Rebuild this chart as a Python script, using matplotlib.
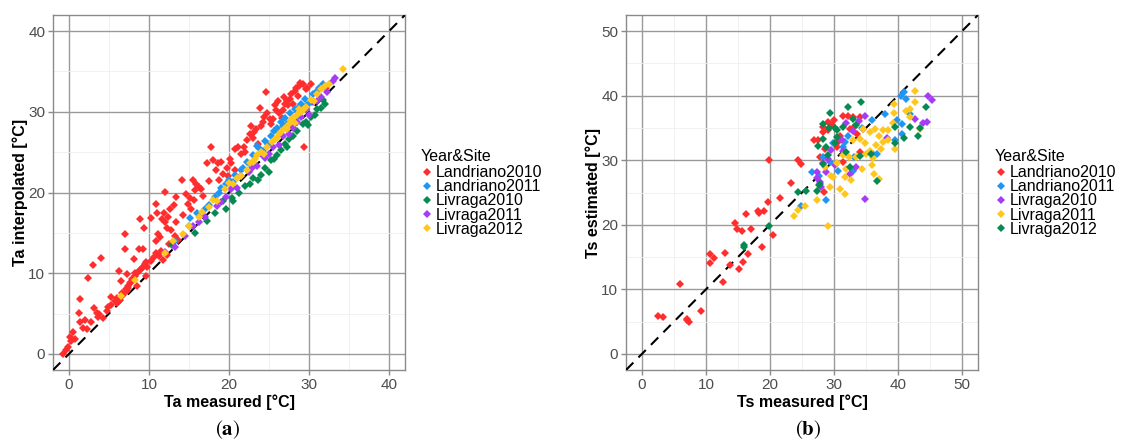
import matplotlib
matplotlib.use("Agg")
import matplotlib.pyplot as plt
import numpy as np

plt.rcParams['font.family'] = ['Liberation Sans', 'DejaVu Sans']

# ---------------- Panel (a): Ta ----------------
a_L10_x = [-0.7,-0.4,-0.1,0.2,0.5,0.1,1.4,1.2,1.4,1.8,2.0,2.4,2.95,3.1,2.8,3.45,3.95,3.8,4.3,4.7,5.3,5.7,
           6.2,6.0,6.6,7.0,7.0,7.2,7.1,7.6,7.4,8.2,8.5,8.9,8.8,9.3,9.1,9.4,9.6,9.8,9.6,10.3,10.9,11.0,10.9,
           11.1,10.9,11.4,11.6,12.0,12.0,12.2,11.9,12.4,12.6,12.8,13.1,13.4,13.4,13.2,11.3,11.8,12.2,13.6,
           14.1,14.3,14.6,14.9,15.1,15.3,15.5,15.7,15.9,16.3,16.5,15.6,17.2,17.8,18.0,18.4,18.6,19.0,19.2,
           19.7,20.1,20.3,20.7,21.1,21.9,20.7,22.6,22.8,23.1,23.4,23.9,24.0,24.4,24.7,24.6,25.1,25.5,25.9,
           26.1,26.2,26.7,27.2,27.6,27.8,28.2,28.4,28.8,29.2,28.6,29.4,29.6,32.1,
           6.0,6.4,6.8,7.2,7.4,7.8,8.2,8.6,8.9,9.3,9.5,10.2,10.6,11.5,12.5,
           0.8,2.2,3.6,4.9,5.2,6.5,7.9,8.1,16.8,17.5,21.5,22.2,23.6,25.3,26.6,27.0,28.0,
           24.2,25.8,26.9,27.4,28.9,29.8,30.2,23.0,22.0,19.9,18.8]
a_L10_y = [0.0,0.5,0.9,1.6,2.7,2.1,6.8,5.1,4.0,3.2,4.2,9.4,11.0,5.7,4.0,5.1,11.9,4.9,4.4,5.3,6.1,6.5,
           10.3,6.9,7.5,14.9,13.0,9.9,8.0,8.8,8.4,10.0,8.4,16.7,13.0,13.0,10.6,15.6,11.4,10.8,9.6,16.8,18.6,
           17.4,14.0,14.9,12.5,14.5,16.7,20.1,16.4,15.6,17.4,17.0,18.0,15.4,18.4,19.4,16.3,14.6,12.1,11.6,12.3,
           14.1,21.5,17.2,19.8,18.6,19.3,18.0,21.5,20.3,21.1,20.7,20.4,19.1,23.6,25.6,24.0,22.8,23.7,23.8,22.3,
           23.0,24.2,23.6,25.4,25.6,25.7,22.8,27.3,28.2,27.5,27.9,30.5,28.3,29.4,29.8,32.4,29.1,29.1,30.2,
           31.4,29.8,30.2,31.4,31.6,32.2,32.6,33.0,33.2,33.5,32.0,25.6,32.8,33.0,
           6.3,6.7,7.3,7.8,8.2,8.9,9.6,10.2,10.4,10.8,11.2,11.5,12.0,12.8,13.6,
           1.9,3.1,4.6,5.8,7.0,9.0,9.3,11.8,19.6,21.4,24.8,26.5,26.0,28.5,29.2,31.0,31.0,
           28.8,30.8,31.8,30.9,33.6,33.0,33.4,26.8,25.0,22.0,21.5]

a_L11_x = [13.3,15.0,16.0,17.5,18.2,19.0,20.0,20.8,21.5,22.2,23.0,23.8,24.5,25.2,26.0,26.5,27.0,27.6,
           28.2,29.0,29.5,30.5,31.2,31.8,23.5,24.2,20.5,22.8,25.6,27.3,15.1,19.6,26.8,28.8,30.2,17.0,
           21.8,24.9,26.2,28.5,29.8,31.0,18.8,16.4]
a_L11_y = [14.0,15.8,17.5,18.5,19.4,20.5,21.5,22.2,22.8,23.8,24.6,25.5,26.4,27.0,28.0,28.8,29.2,29.8,
           30.3,31.0,31.6,32.2,33.0,33.5,25.8,25.2,21.3,23.4,27.6,28.5,16.8,21.0,28.3,30.6,31.2,18.0,
           23.0,26.0,27.4,29.4,30.9,32.6,19.9,17.2]

a_V10_x = [12.9,15.8,19.3,20.4,20.5,22.0,23.0,23.6,24.5,25.0,25.6,26.5,27.2,27.5,28.5,29.2,29.6,30.3,
           31.0,31.5,31.7,26.0,24.0,21.2,18.3,17.3,19.6,28.0,30.8,22.6,27.0,29.9,25.3,32.0]
a_V10_y = [13.5,15.0,19.0,19.3,19.0,20.8,21.8,21.6,23.0,22.6,24.2,25.3,25.6,26.6,27.6,28.5,28.8,29.3,
           30.3,30.5,31.5,24.6,22.2,20.0,17.5,16.5,18.0,27.0,29.6,21.0,26.0,28.4,24.0,31.0]

a_V11_x = [12.0,13.2,14.5,15.5,17.0,18.5,19.0,20.3,21.0,22.5,23.5,24.5,25.5,26.2,27.5,28.5,29.6,31.5,
           32.2,33.0,33.2,30.5,28.0,26.8,24.0,21.5,16.2,29.0,22.9,25.0,27.9,30.0,31.0,19.6]
a_V11_y = [12.6,13.3,14.6,15.8,17.0,18.3,18.8,20.4,20.6,22.5,23.3,24.3,25.7,25.9,27.3,28.8,30.4,31.8,
           32.5,33.8,34.2,31.2,28.0,27.0,24.8,22.0,16.4,29.4,23.0,24.8,28.4,29.6,31.3,19.4]

a_V12_x = [6.5,8.3,12.0,13.0,14.3,15.0,16.2,17.5,18.5,19.5,20.5,21.5,22.2,23.0,23.5,24.0,24.8,25.4,26.0,
           26.5,27.0,27.5,28.0,28.5,29.0,29.6,30.2,31.0,32.0,32.5,34.3,24.4,25.8,27.2,28.2,29.3,22.6,20.0,
           21.0,23.2,26.3,27.8,28.8,30.6,31.5,16.6,18.0]
a_V12_y = [7.2,9.2,12.5,14.0,14.8,15.8,17.0,18.2,19.0,20.4,21.0,22.0,22.8,23.8,24.6,25.0,25.6,26.3,26.8,
           27.5,28.0,28.5,29.2,29.6,30.0,30.6,31.5,32.2,33.2,33.5,35.3,24.8,26.6,27.9,28.6,30.2,23.6,21.2,
           21.8,24.2,27.2,29.0,30.4,31.4,32.8,17.6,19.1]

# ---------------- Panel (b): Ts ----------------
b_L10_x = [2.5,3.3,5.9,7.1,7.4,7.0,9.2,10.7,10.7,11.2,12.7,13.0,13.8,14.5,14.8,15.6,15.2,15.8,16.3,16.6,
           17.1,18.2,18.3,19.1,18.7,19.7,19.9,20.5,21.5,23.3,24.4,24.8,
           26.8,27.8,28.3,28.3,28.5,29.7,30.6,31.4,32.2,33.0,33.2,34.0,32.5,29.1,27.5,31.4,34.5,30.4,34.1,
           29.0,30.0,31.0,28.6,33.6]
b_L10_y = [5.9,5.7,10.8,5.4,4.9,5.2,6.7,14.1,15.4,14.8,11.1,15.6,13.7,20.3,19.4,19.0,13.1,14.3,21.6,15.4,
           19.4,22.2,21.8,22.2,16.5,23.5,30.1,18.4,24.2,26.4,30.1,29.4,
           33.2,30.5,35.1,34.4,25.1,35.5,32.8,36.9,36.9,36.7,35.1,36.7,34.9,34.7,33.1,29.7,34.9,32.0,31.3,
           35.9,36.2,33.8,31.8,34.0]

b_L11_x = [24.8,28.7,26.5,27.7,29.3,29.9,30.6,31.7,32.2,33.0,34.3,36.0,36.7,37.9,39.6,39.9,40.5,41.0,
           41.3,41.8,40.7,40.6,36.1,33.2,28.3,31.4]
b_L11_y = [22.9,23.8,28.2,27.6,29.7,32.6,28.4,32.8,33.8,28.4,35.0,36.3,31.0,37.1,33.2,36.3,40.0,40.5,
           39.5,37.1,34.1,35.6,31.0,30.5,30.5,32.0]

b_V10_x = [27.4,27.8,28.3,28.8,28.0,29.6,30.1,31.9,32.5,33.5,33.9,34.9,34.9,31.3,33.0,31.4,38.3,42.7,
           44.5,43.9,44.7,45.3,29.1,27.3]
b_V10_y = [28.2,26.6,29.5,28.2,25.9,31.6,29.2,35.8,27.9,29.0,36.1,36.9,24.0,33.1,34.6,31.5,33.5,36.4,
           35.9,35.8,39.9,39.4,30.2,27.2]

b_V11_x = [23.7,24.4,25.4,27.3,29.1,29.3,29.9,30.9,31.7,32.6,31.7,34.4,36.2,37.1,32.4,33.5,35.0,35.6,
           36.1,36.6,37.4,37.6,37.1,37.6,38.4,39.2,39.3,39.3,39.5,41.3,41.8,42.7,42.7,43.4,33.0,34.0,35.6,
           30.4,31.4,31.9,34.5,36.4,34.8,28.6,29.6,36.0,38.4,41.8]
b_V11_y = [21.3,22.3,22.9,23.9,19.8,25.9,27.4,25.5,24.8,26.9,27.4,28.6,27.9,27.1,30.5,30.5,31.0,31.5,
           30.3,32.3,31.8,32.8,33.8,34.7,34.7,35.8,37.3,38.7,31.8,37.6,38.0,39.0,40.8,34.9,33.1,33.3,34.4,
           29.6,30.8,28.7,34.9,34.9,32.6,29.0,27.5,29.3,33.1,36.7]

b_V12_x = [16.0,15.9,19.9,24.4,25.7,27.3,27.7,29.4,28.3,32.2,34.2,29.2,30.1,30.5,28.3,28.8,27.5,29.1,
           30.1,31.4,33.0,33.5,30.4,31.9,32.5,34.0,35.8,36.7,39.5,39.5,41.0,41.9,43.1,43.5,44.3,28.3,27.8]
b_V12_y = [16.5,16.8,19.8,25.1,25.3,25.2,26.1,37.3,35.6,38.2,39.0,35.0,35.0,34.7,33.3,32.0,32.2,30.8,
           32.6,35.1,36.4,35.4,33.6,31.3,29.0,30.6,30.9,26.8,35.2,32.6,33.5,35.2,33.7,35.0,38.3,29.4,26.3]

labels_a = ["Landriano2010", "Landriano2011", "Livraga2010", "Livraga2011", "Livraga2012"]
labels_b = ["Landriano2010", "Landriano2011", "Livraga2010", "Livraga2011", "Livraga2012"]

RED = "#FF2D2D"
BLUE = "#1F96F2"
GREEN = "#078A52"
PURPLE = "#A63CF7"
YELLOW = "#FFC61C"

series_a = [(a_L10_x, a_L10_y, RED), (a_L11_x, a_L11_y, BLUE), (a_V10_x, a_V10_y, GREEN),
            (a_V11_x, a_V11_y, PURPLE), (a_V12_x, a_V12_y, YELLOW)]
series_b = [(b_L10_x, b_L10_y, RED), (b_L11_x, b_L11_y, BLUE), (b_V10_x, b_V10_y, PURPLE),
            (b_V11_x, b_V11_y, YELLOW), (b_V12_x, b_V12_y, GREEN)]

W, H = 1121, 442
fig = plt.figure(figsize=(W / 100, H / 100), dpi=100)

ax1 = fig.add_axes([53 / W, 1 - 370 / H, 352 / W, 355 / H])
ax2 = fig.add_axes([626 / W, 1 - 370 / H, 352 / W, 355 / H])


def style(ax, lim, ticks, minor, xlabel, ylabel):
    ax.set_xlim(*lim)
    ax.set_ylim(*lim)
    ax.set_xticks(ticks)
    ax.set_yticks(ticks)
    ax.set_xticks(minor, minor=True)
    ax.set_yticks(minor, minor=True)
    ax.grid(which='minor', color='#EFEFEF', lw=0.6, zorder=0)
    ax.grid(which='major', color='#9A9A9A', lw=1.0, zorder=0)
    for s in ax.spines.values():
        s.set_color('#8A8A8A')
        s.set_linewidth(1.0)
    ax.tick_params(which='major', length=3.5, width=1, color='#8A8A8A', labelsize=11,
                   labelcolor='#4D4D4D', pad=2)
    ax.tick_params(which='minor', length=0)
    ax.set_xlabel(xlabel, fontsize=11.5, fontweight='bold', labelpad=2)
    ax.set_ylabel(ylabel, fontsize=11.5, fontweight='bold', labelpad=0)
    ax.set_axisbelow(True)
    ax.plot([lim[0], lim[1]], [lim[0], lim[1]], color='black', lw=1.5, dashes=(5, 3.5), zorder=3)


style(ax1, (-2, 42), [0, 10, 20, 30, 40], [5, 15, 25, 35], "Ta measured [°C]", "Ta interpolated [°C]")
style(ax2, (-2.5, 52.5), [0, 10, 20, 30, 40, 50], [5, 15, 25, 35, 45], "Ts measured [°C]", "Ts estimated [°C]")

for ax, series, labels, lx in [(ax1, series_a, labels_a, 421), (ax2, series_b, labels_b, 995)]:
    for (x, y, c), lab in zip(series, labels):
        ax.plot(x, y, linestyle='none', marker='D', ms=3.6, mew=0, color=c, label=lab, zorder=4)
    leg = ax.legend(loc='upper left', bbox_to_anchor=(lx / W, 1 - 149 / H), bbox_transform=fig.transFigure,
                    frameon=False, title="Year&Site", fontsize=11.5, title_fontsize=11.5,
                    handlelength=0.7, handletextpad=0.25, labelspacing=-0.06, borderpad=0,
                    borderaxespad=0, markerscale=1.0)
    leg._legend_box.align = "left"
    leg._legend_box.sep = 1

fig.text(228 / W, 1 - 430 / H, r"($\mathbf{a}$)", fontsize=15, ha='center', va='center',
         family='STIXGeneral', math_fontfamily='stix')
fig.text(808 / W, 1 - 430 / H, r"($\mathbf{b}$)", fontsize=15, ha='center', va='center',
         family='STIXGeneral', math_fontfamily='stix')

fig.savefig("out.png", dpi=100)
